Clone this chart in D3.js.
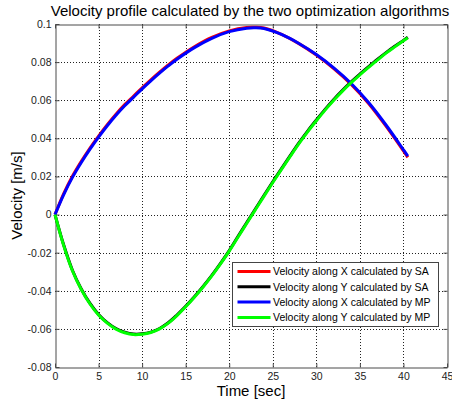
<!DOCTYPE html>
<html>
<head>
<meta charset="utf-8">
<script src="https://cdn.jsdelivr.net/npm/d3@7"></script>
<style>
  html, body { margin: 0; padding: 0; background: #fff; }
  svg { display: block; font-family: "Liberation Sans", Arial, sans-serif; }
</style>
</head>
<body>
<svg id="chart" width="452" height="406"></svg>
<script>
// Time samples (s) for the X-velocity curves
const timeX = [0, 1, 2, 3, 4, 5, 6, 7, 8, 9, 10, 11, 12, 13, 14, 16, 18, 20, 22, 23, 24, 26, 28, 30, 32, 34, 36, 38, 40, 40.5];
// Velocity along X (m/s)
const vxSA = [0, 0.0110, 0.0201, 0.0278, 0.0348, 0.0412, 0.0472, 0.0527, 0.0577, 0.0621, 0.0665, 0.0707, 0.0747, 0.0785, 0.0820, 0.0881, 0.0930, 0.0964, 0.0982, 0.0983, 0.0979, 0.0946, 0.0897, 0.0837, 0.0766, 0.0683, 0.0583, 0.0464, 0.0334, 0.0300];
const vxMP = [0, 0.0105, 0.0195, 0.0272, 0.0342, 0.0406, 0.0466, 0.0521, 0.0571, 0.0615, 0.0660, 0.0702, 0.0742, 0.0780, 0.0815, 0.0876, 0.0925, 0.0960, 0.0978, 0.0980, 0.0976, 0.0945, 0.0898, 0.0840, 0.0770, 0.0688, 0.0588, 0.0470, 0.0340, 0.0307];

// Time samples (s) for the Y-velocity curves
const timeY = [0, 1, 2, 3, 4, 5, 6, 7, 8, 9, 10, 11, 12, 13, 14, 15, 16, 17, 18, 19, 20, 21, 22, 23, 24, 25, 26, 27, 28, 29, 30, 31, 32, 33, 34, 35, 36, 37, 38, 39, 40, 40.5];
// Velocity along Y (m/s)
const vySA = [0, -0.0160, -0.0292, -0.0389, -0.0465, -0.0524, -0.0567, -0.0598, -0.0617, -0.0627, -0.0626, -0.0617, -0.0598, -0.0568, -0.0527, -0.0481, -0.0431, -0.0377, -0.0319, -0.0256, -0.0189, -0.0115, -0.0043, 0.0029, 0.0101, 0.0172, 0.0241, 0.0309, 0.0376, 0.0438, 0.0496, 0.0552, 0.0604, 0.0652, 0.0696, 0.0737, 0.0776, 0.0814, 0.0850, 0.0883, 0.0914, 0.0930];
const vyMP = [0, -0.0163, -0.0295, -0.0392, -0.0468, -0.0527, -0.0570, -0.0601, -0.0620, -0.0630, -0.0628, -0.0619, -0.0600, -0.0570, -0.0530, -0.0484, -0.0434, -0.0380, -0.0322, -0.0259, -0.0192, -0.0119, -0.0047, 0.0025, 0.0097, 0.0168, 0.0237, 0.0305, 0.0372, 0.0434, 0.0492, 0.0548, 0.0600, 0.0648, 0.0692, 0.0733, 0.0772, 0.0810, 0.0847, 0.0880, 0.0912, 0.0928];

const xTicks = [0, 5, 10, 15, 20, 25, 30, 35, 40, 45];
const yTicks = [-0.08, -0.06, -0.04, -0.02, 0, 0.02, 0.04, 0.06, 0.08, 0.1];
const yTickLabels = ["-0.08", "-0.06", "-0.04", "-0.02", "0", "0.02", "0.04", "0.06", "0.08", "0.1"];

const seriesNames = [
  "Velocity along X calculated by SA",
  "Velocity along Y calculated by SA",
  "Velocity along X calculated by MP",
  "Velocity along Y calculated by MP"
];
const seriesColors = ["#ff0000", "#000000", "#0000ff", "#00ff00"];

const chartTitle = "Velocity profile calculated by the two optimization algorithms";
const xTitle = "Time [sec]";
const yTitle = "Velocity [m/s]";

const series = [
  { t: timeX, v: vxSA },
  { t: timeY, v: vySA },
  { t: timeX, v: vxMP },
  { t: timeY, v: vyMP }
].map((s, i) => ({ name: seriesNames[i], color: seriesColors[i], pts: s.t.map((t, j) => [t, s.v[j]]) }));

const svg = d3.select("#chart");
const plot = { left: 55, right: 447, top: 24, bottom: 367 };

const x = d3.scaleLinear().domain([0, 45]).range([plot.left, plot.right]);
const y = d3.scaleLinear().domain([-0.08, 0.1]).range([plot.bottom, plot.top]);

const axisColor = "#4a4a4a";

// dotted grid
const grid = svg.append("g");
grid.selectAll("line.gx").data(xTicks.slice(1, -1)).join("line")
  .attr("x1", d => Math.round(x(d)) + 0.5).attr("x2", d => Math.round(x(d)) + 0.5)
  .attr("y1", plot.top).attr("y2", plot.bottom)
  .attr("stroke", "#222").attr("stroke-width", 1).attr("stroke-dasharray", "1,2");
grid.selectAll("line.gy").data(yTicks.slice(1, -1)).join("line")
  .attr("y1", d => Math.round(y(d)) + 0.5).attr("y2", d => Math.round(y(d)) + 0.5)
  .attr("x1", plot.left).attr("x2", plot.right)
  .attr("stroke", "#222").attr("stroke-width", 1).attr("stroke-dasharray", "1,2");

// axes with inward ticks on all four sides
const fmtY = d => yTickLabels[yTicks.indexOf(d)];
const axB = svg.append("g").attr("transform", `translate(0,${plot.bottom + 0.5})`)
  .call(d3.axisBottom(x).tickValues(xTicks).tickSizeInner(-4).tickSizeOuter(0).tickPadding(5));
const axT = svg.append("g").attr("transform", `translate(0,${plot.top + 0.5})`)
  .call(d3.axisTop(x).tickValues(xTicks).tickSizeInner(-4).tickSizeOuter(0).tickFormat(""));
const axL = svg.append("g").attr("transform", `translate(${plot.left + 0.5},0)`)
  .call(d3.axisLeft(y).tickValues(yTicks).tickFormat(fmtY).tickSizeInner(-4).tickSizeOuter(0).tickPadding(4));
const axR = svg.append("g").attr("transform", `translate(${plot.right + 0.5},0)`)
  .call(d3.axisRight(y).tickValues(yTicks).tickSizeInner(-4).tickSizeOuter(0).tickFormat(""));
[axB, axT, axL, axR].forEach(a => {
  a.select(".domain").attr("stroke", axisColor);
  a.selectAll(".tick line").attr("stroke", axisColor);
  a.selectAll("text").attr("fill", "#222").style("font-size", "10.5px").style("font-family", "'Liberation Sans', Arial, sans-serif");
});

// curves
const line = d3.line().x(d => x(d[0])).y(d => y(d[1])).curve(d3.curveCatmullRom.alpha(0.5));
svg.append("g").selectAll("path").data(series).join("path")
  .attr("d", d => line(d.pts))
  .attr("fill", "none")
  .attr("stroke", d => d.color)
  .attr("stroke-width", 3)
  .attr("stroke-linejoin", "round");

// titles
svg.append("text").attr("x", (plot.left + plot.right) / 2 - 1).attr("y", 16)
  .attr("text-anchor", "middle").style("font-size", "15px").attr("fill", "#000").text(chartTitle);
svg.append("text").attr("x", (plot.left + plot.right) / 2).attr("y", 396)
  .attr("text-anchor", "middle").style("font-size", "15px").attr("fill", "#000").text(xTitle);
svg.append("text").attr("transform", `translate(22,${(plot.top + plot.bottom) / 2}) rotate(-90)`)
  .attr("text-anchor", "middle").style("font-size", "15px").attr("fill", "#000").text(yTitle);

// legend
const lg = svg.append("g").attr("transform", "translate(232.5,262.5)");
lg.append("rect").attr("width", 206).attr("height", 64)
  .attr("fill", "#fff").attr("stroke", "#444").attr("stroke-width", 1);
const items = lg.selectAll("g.item").data(series).join("g")
  .attr("transform", (d, i) => `translate(0,${9 + i * 15.3})`);
items.append("line").attr("x1", 5).attr("x2", 38).attr("y1", 0).attr("y2", 0)
  .attr("stroke", d => d.color).attr("stroke-width", 3);
items.append("text").attr("x", 40.5).attr("y", 3.8)
  .style("font-size", "10.5px").attr("fill", "#000").text(d => d.name);
</script>
</body>
</html>
